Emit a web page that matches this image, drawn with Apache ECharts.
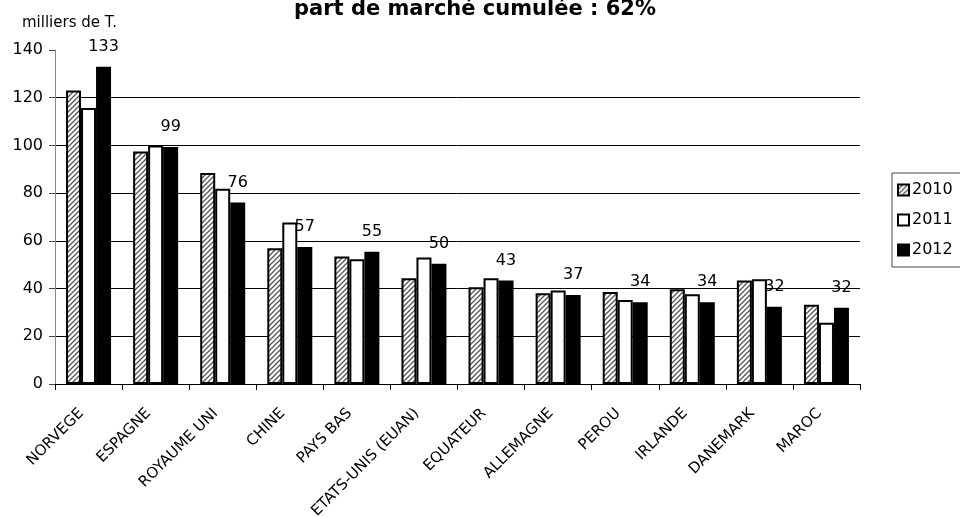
<!DOCTYPE html>
<html>
<head>
<meta charset="utf-8">
<script src="https://cdn.jsdelivr.net/npm/echarts@6/dist/echarts.min.js"></script>
<style>
  html, body { margin: 0; padding: 0; background: #fff; }
  #chart { width: 960px; height: 517px; }
</style>
</head>
<body>
<div id="chart"></div>
<script>
const categories = ['NORVEGE', 'ESPAGNE', 'ROYAUME UNI', 'CHINE', 'PAYS BAS', 'ETATS-UNIS (EUAN)',
  'EQUATEUR', 'ALLEMAGNE', 'PEROU', 'IRLANDE', 'DANEMARK', 'MAROC']
const values2010 = [123, 97.5, 88.4, 56.9, 53.4, 44.3, 40.6, 38.0, 38.6, 39.7, 43.4, 33.2]
const values2011 = [115.7, 100, 81.8, 67.7, 52.3, 53, 44.3, 39.2, 35.2, 37.6, 43.9, 25.7]
const values2012 = [133, 99.3, 76.1, 57.4, 55.4, 50.4, 43.4, 37.3, 34.3, 34.3, 32.4, 32.0]

const FONT = 'DejaVu Sans'

// hatched fill for 2010
function hatch() {
  const c = document.createElement('canvas')
  c.width = 5
  c.height = 5
  const ctx = c.getContext('2d')
  ctx.fillStyle = '#fff'
  ctx.fillRect(0, 0, 5, 5)
  ctx.strokeStyle = '#555'
  ctx.lineWidth = 1.3
  ctx.beginPath()
  ctx.moveTo(-1, 6); ctx.lineTo(6, -1)
  ctx.moveTo(-1, 1); ctx.lineTo(1, -1)
  ctx.moveTo(4, 6); ctx.lineTo(6, 4)
  ctx.stroke()
  return { image: c, repeat: 'repeat' }
}

const chart = echarts.init(document.getElementById('chart'))

const option = {
  animation: false,
  textStyle: { fontFamily: FONT },
  title: {
    text: 'part de marché cumulée : 62%',
    left: 470,
    textAlign: 'center',
    top: -6,
    textStyle: { fontFamily: FONT, fontSize: 21, fontWeight: 'bold', color: '#000' }
  },
  graphic: [{
    type: 'text',
    left: 22,
    top: 16,
    style: { text: 'milliers de T.', font: '15px "DejaVu Sans"', fill: '#000' }
  }],
  legend: {
    orient: 'vertical',
    left: 892,
    top: 173,
    padding: [9, 20, 9, 5],
    itemGap: 14,
    itemWidth: 11,
    itemHeight: 11,
    borderColor: '#444',
    borderWidth: 1,
    icon: 'rect',
    textStyle: { fontFamily: FONT, fontSize: 16, color: '#000', padding: [0, 0, 0, -2] },
    data: ['2010', '2011', '2012']
  },
  grid: { left: 55, right: 100, top: 50, bottom: 133, outerBoundsMode: 'none' },
  xAxis: {
    type: 'category',
    data: categories,
    axisLine: { lineStyle: { color: '#000', width: 1 } },
    axisTick: { show: true, length: 6, lineStyle: { color: '#000' } },
    axisLabel: {
      rotate: 45,
      interval: 0,
      margin: 20,
      padding: [0, 10, 0, 0],
      fontFamily: FONT,
      fontSize: 15,
      color: '#000'
    }
  },
  yAxis: {
    type: 'value',
    min: 0,
    max: 140,
    interval: 20,
    axisLine: { show: true, lineStyle: { color: '#888', width: 1 } },
    axisTick: { show: true, length: 6, lineStyle: { color: '#444' } },
    axisLabel: { margin: 12, fontFamily: FONT, fontSize: 16, color: '#000' },
    splitLine: { show: true, showMinLine: false, showMaxLine: false, lineStyle: { color: '#000', width: 1 } }
  },
  series: [
    {
      name: '2010',
      type: 'bar',
      data: values2010,
      barWidth: 15,
      barGap: '0%',
      itemStyle: { color: hatch(), borderColor: '#000', borderWidth: 2 }
    },
    {
      name: '2011',
      type: 'bar',
      data: values2011,
      barWidth: 15,
      barGap: '0%',
      itemStyle: { color: '#fff', borderColor: '#000', borderWidth: 2 }
    },
    {
      name: '2012',
      type: 'bar',
      data: values2012,
      barWidth: 15,
      barGap: '0%',
      itemStyle: { color: '#000', borderColor: '#000', borderWidth: 2 },
      label: {
        show: true,
        position: 'top',
        distance: 12,
        fontFamily: FONT,
        fontSize: 16,
        color: '#000',
        formatter: p => Math.round(p.value)
      }
    }
  ]
}

chart.setOption(option)
window.addEventListener('resize', () => chart.resize())
</script>
</body>
</html>
